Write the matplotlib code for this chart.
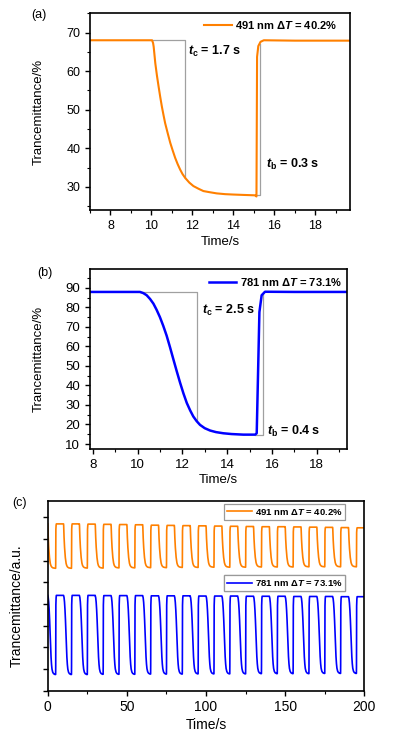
import numpy as np
import matplotlib.pyplot as plt
from matplotlib.ticker import MultipleLocator, NullFormatter

plt.rcParams['font.family'] = ['Liberation Sans', 'DejaVu Sans']
plt.rcParams['mathtext.fontset'] = 'custom'
plt.rcParams['mathtext.rm'] = 'Liberation Sans:bold'
plt.rcParams['mathtext.it'] = 'Liberation Sans:italic:bold'
plt.rcParams['mathtext.bf'] = 'Liberation Sans:bold'

ORANGE = '#ff8000'
BLUE = '#0000ff'
GRAY = '#a0a0a0'

# (a) 491 nm single switch
t_491 = [7.0, 9.0, 10.03, 10.08, 10.11, 10.19, 10.27, 10.35, 10.43, 10.51, 10.59, 10.67,
         10.80, 10.92, 11.04, 11.16, 11.28, 11.40, 11.52, 11.65, 11.85, 12.05, 12.30,
         12.54, 12.85, 13.19, 13.6, 14.0, 14.5, 15.05, 15.13, 15.16, 15.22, 15.33, 15.49,
         17.0, 19.7]
T_491 = [68.0, 68.0, 68.0, 67.3, 66.3, 62.0, 58.8, 56.0, 53.3, 50.8, 48.6, 46.5,
         43.8, 41.4, 39.4, 37.5, 35.9, 34.5, 33.3, 32.3, 31.1, 30.2, 29.5,
         28.9, 28.6, 28.3, 28.1, 28.0, 27.9, 27.8, 27.5, 63.7, 66.5, 67.6, 68.0,
         67.9, 67.9]
gray_a_t = [10.03, 11.66, 11.66, None, 15.10, 15.32, 15.32]
gray_a_T = [68.0, 68.0, 32.3, None, 27.8, 27.8, 67.0]

# (b) 781 nm single switch
t_781 = [7.8, 9.5, 10.11, 10.26, 10.41, 10.56, 10.71, 10.85, 11.0, 11.15, 11.30, 11.45,
         11.60, 11.75, 11.90, 12.05, 12.20, 12.35, 12.49, 12.64, 12.79, 13.0, 13.24,
         13.5, 13.83, 14.2, 14.72, 15.25, 15.32, 15.44, 15.54, 15.69, 17.0, 19.4]
T_781 = [87.9, 87.9, 87.9, 87.3, 86.2, 84.3, 81.9, 78.8, 75.0, 70.5, 65.5, 59.6,
         53.4, 47.3, 41.4, 35.9, 31.0, 27.2, 24.1, 21.7, 19.8, 18.1, 16.9,
         16.1, 15.5, 15.1, 14.8, 14.8, 15.5, 77.6, 86.2, 88.0, 87.9, 87.9]
gray_b_t = [10.11, 12.64, 12.64, None, 15.25, 15.59, 15.59]
gray_b_T = [87.9, 87.9, 22.4, None, 14.8, 14.8, 87.0]

# (c) cycling, one decay / recovery shape per wavelength (fraction of swing)
dec_t_491 = [0, 0.08, 0.16, 0.32, 0.48, 0.64, 0.89, 1.13, 1.37, 1.62, 2.02, 2.51, 3.16, 4.0, 5.0]
dec_f_491 = [1, 0.96, 0.85, 0.70, 0.57, 0.47, 0.34, 0.24, 0.17, 0.11, 0.06, 0.03, 0.012, 0.005, 0]
dec_t_781 = [0, 0.3, 0.6, 0.9, 1.2, 1.5, 1.8, 2.1, 2.4, 2.7, 3.15, 3.7, 4.6, 5.0]
dec_f_781 = [1, 0.975, 0.917, 0.822, 0.693, 0.527, 0.363, 0.221, 0.127, 0.068, 0.029, 0.01, 0, 0]
rise_t = [0, 0.05, 0.15, 0.3, 0.45]
rise_f = [0, 0.1, 0.88, 0.97, 1.0]

high_491 = [7.70, 7.70, 7.69, 7.68, 7.67, 7.66, 7.64, 7.63, 7.62, 7.61,
            7.60, 7.59, 7.58, 7.57, 7.57, 7.56, 7.55, 7.54, 7.53, 7.52]
low_491 = [5.65, 5.65, 5.66, 5.66, 5.67, 5.67, 5.68, 5.68, 5.69, 5.69,
           5.70, 5.70, 5.70, 5.71, 5.71, 5.71, 5.72, 5.72, 5.72, 5.72]
high_781 = [4.40, 4.40, 4.40, 4.39, 4.39, 4.39, 4.38, 4.38, 4.38, 4.37,
            4.37, 4.37, 4.36, 4.36, 4.36, 4.35, 4.35, 4.35, 4.34, 4.34]
low_781 = [0.75, 0.75, 0.75, 0.76, 0.76, 0.76, 0.77, 0.77, 0.77, 0.78,
           0.78, 0.78, 0.78, 0.79, 0.79, 0.79, 0.79, 0.80, 0.80, 0.80]


def build_cycles(dec_t, dec_f, highs, lows):
    tt, yy = [], []
    for k in range(len(highs)):
        t0 = 10 * k
        hi, lo = highs[k], lows[k]
        for a, f in zip(dec_t, dec_f):
            tt.append(t0 + a)
            yy.append(lo + f * (hi - lo))
        for a, f in zip(rise_t, rise_f):
            tt.append(t0 + 5 + a)
            yy.append(lo + f * (hi - lo))
        tt.append(t0 + 10)
        yy.append(hi)
    return tt, yy


def style(ax):
    for s in ax.spines.values():
        s.set_linewidth(1.2)
    ax.tick_params(which='major', direction='out', length=3.5, width=1, top=False, right=False)
    ax.tick_params(which='minor', direction='out', length=2, width=0.8, top=False, right=False)


fig = plt.figure(figsize=(3.96, 7.37), dpi=100)

# ---- (a)
ax1 = fig.add_axes([0.2273, 0.7151, 0.6566, 0.2669])
ax1.plot(gray_a_t, gray_a_T, color=GRAY, lw=0.9)
ax1.plot(t_491, T_491, color=ORANGE, lw=1.5, label='491 nm Δ$T$ = 40.2%')
ax1.set_xlim(7.0, 19.7)
ax1.set_ylim(24, 75)
ax1.xaxis.set_major_locator(MultipleLocator(2))
ax1.xaxis.set_minor_locator(MultipleLocator(1))
ax1.yaxis.set_major_locator(MultipleLocator(10))
ax1.yaxis.set_minor_locator(MultipleLocator(5))
ax1.tick_params(labelsize=9)
style(ax1)
ax1.set_xlabel('Time/s', fontsize=9.5)
ax1.set_ylabel('Trancemittance/%', fontsize=9.5)
ax1.xaxis.set_label_coords(0.5, -0.13)
ax1.yaxis.set_label_coords(-0.175, 0.5)
ax1.text(11.8, 64.1, r'$t_\mathrm{c}$ = 1.7 s', fontsize=9, fontweight='bold', va='baseline')
ax1.text(15.62, 34.9, r'$t_\mathrm{b}$ = 0.3 s', fontsize=9, fontweight='bold', va='baseline')
ax1.legend(loc='upper right', bbox_to_anchor=(0.952, 0.97), frameon=False, borderpad=0,
           borderaxespad=0, handlelength=2.5, handletextpad=0.3,
           prop={'weight': 'bold', 'size': 8})

# ---- (b)
ax2 = fig.add_axes([0.2273, 0.3904, 0.649, 0.2442])
ax2.plot(gray_b_t, gray_b_T, color=GRAY, lw=0.9)
ax2.plot(t_781, T_781, color=BLUE, lw=1.8, label='781 nm Δ$T$ = 73.1%')
ax2.set_xlim(7.88, 19.35)
ax2.set_ylim(7.3, 99.5)
ax2.xaxis.set_major_locator(MultipleLocator(2))
ax2.xaxis.set_minor_locator(MultipleLocator(1))
ax2.yaxis.set_major_locator(MultipleLocator(10))
ax2.yaxis.set_minor_locator(MultipleLocator(5))
ax2.tick_params(labelsize=9.5)
style(ax2)
ax2.set_xlabel('Time/s', fontsize=9.5)
ax2.set_ylabel('Trancemittance/%', fontsize=9.5)
ax2.xaxis.set_label_coords(0.5, -0.14)
ax2.yaxis.set_label_coords(-0.175, 0.5)
ax2.text(12.87, 76.7, r'$t_\mathrm{c}$ = 2.5 s', fontsize=9, fontweight='bold', va='baseline')
ax2.text(15.77, 14.6, r'$t_\mathrm{b}$ = 0.4 s', fontsize=9, fontweight='bold', va='baseline')
ax2.legend(loc='upper right', bbox_to_anchor=(0.98, 0.965), frameon=False, borderpad=0,
           borderaxespad=0, handlelength=2.5, handletextpad=0.3,
           prop={'weight': 'bold', 'size': 8})

# ---- (c)
ax3 = fig.add_axes([0.1205, 0.0628, 0.7995, 0.2578])
tc_o, yc_o = build_cycles(dec_t_491, dec_f_491, high_491, low_491)
tc_b, yc_b = build_cycles(dec_t_781, dec_f_781, high_781, low_781)
l1, = ax3.plot(tc_o, yc_o, color=ORANGE, lw=1.2, label='491 nm Δ$T$ = 40.2%')
l2, = ax3.plot(tc_b, yc_b, color=BLUE, lw=1.2, label='781 nm Δ$T$ = 73.1%')
ax3.set_xlim(0, 200)
ax3.set_ylim(0, 8.77)
ax3.xaxis.set_major_locator(MultipleLocator(50))
ax3.xaxis.set_minor_locator(MultipleLocator(25))
ax3.yaxis.set_major_locator(MultipleLocator(1))
ax3.yaxis.set_major_formatter(NullFormatter())
ax3.tick_params(labelsize=10)
style(ax3)
ax3.set_xlabel('Time/s', fontsize=10)
ax3.set_ylabel('Trancemittance/a.u.', fontsize=10)
ax3.xaxis.set_label_coords(0.5, -0.145)
ax3.yaxis.set_label_coords(-0.076, 0.45)
for line, y in [(l1, 0.983), (l2, 0.609)]:
    leg = ax3.legend(handles=[line], loc='upper right', bbox_to_anchor=(0.94, y),
                     borderaxespad=0, borderpad=0.3, handlelength=2.7, handletextpad=0.3,
                     fancybox=False, framealpha=1, edgecolor='#999999',
                     prop={'weight': 'bold', 'size': 6.8})
    leg.get_frame().set_linewidth(0.9)
    ax3.add_artist(leg)

fig.text(0.099, 0.98, '(a)', fontsize=9, ha='center', va='center')
fig.text(0.114, 0.629, '(b)', fontsize=9, ha='center', va='center')
fig.text(0.05, 0.317, '(c)', fontsize=9, ha='center', va='center')

fig.savefig('out.png', dpi=100)
